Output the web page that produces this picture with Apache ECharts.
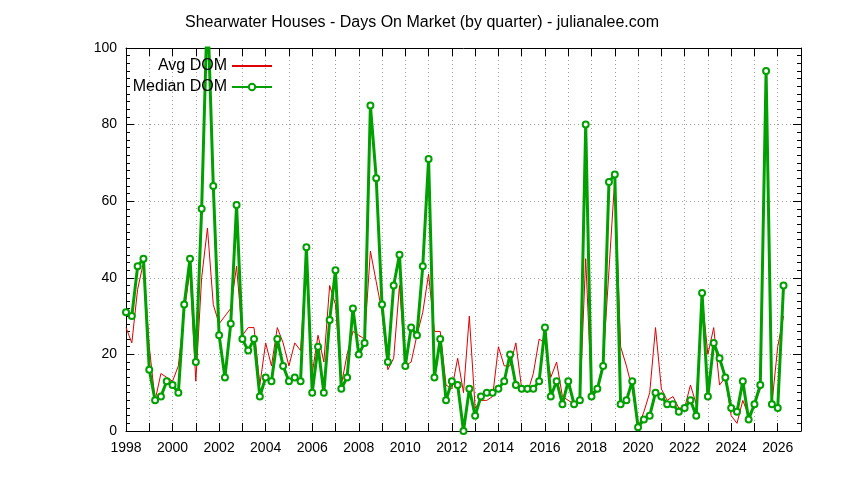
<!DOCTYPE html>
<html>
<head>
<meta charset="utf-8">
<title>Shearwater Houses - Days On Market</title>
<script src="https://cdn.jsdelivr.net/npm/echarts@6/dist/echarts.min.js"></script>
<style>
  html, body { margin: 0; padding: 0; background: #fff; }
  #chart { width: 844px; height: 480px; }
</style>
</head>
<body>
<div id="chart"></div>
<script>
// quarterly data, first value is 1998 Q1
const startYear = 1998;

const avgDom = [
  27, 23, 37, 44, 22, 8, 15, 14, 13, 17,
  31, 42, 13, 40, 53, 33, 28, 30, 32, 43,
  25, 27, 27, 12, 23, 17, 27, 23, 17, 23,
  21, 45, 15, 25, 18, 38, 33, 12, 20, 26,
  25, 24, 47, 39, 31, 16, 19, 38, 17, 18,
  25, 31, 41, 26, 26, 12, 11, 19, 10, 30,
  6, 8, 8, 9, 22, 17, 17, 23, 11, 10,
  15, 24, 23, 14, 18, 9, 8, 7, 8, 45,
  10, 11, 18, 42, 66, 22, 17, 11, 1, 5,
  10, 27, 11, 8, 9, 6, 6, 12, 7, 35,
  20, 27, 12, 14, 4, 2, 8, 4, 7, 11,
  90, 7, 22, 30
];

const medianDom = [
  31, 30, 43, 45, 16, 8, 9, 13, 12, 10,
  33, 45, 18, 58, 112, 64, 25, 14, 28, 59,
  24, 21, 24, 9, 14, 13, 24, 17, 13, 14,
  13, 48, 10, 22, 10, 29, 42, 11, 14, 32,
  20, 23, 85, 66, 33, 18, 38, 46, 17, 27,
  25, 43, 71, 14, 24, 8, 13, 12, 0, 11,
  4, 9, 10, 10, 11, 13, 20, 12, 11, 11,
  11, 13, 27, 9, 13, 7, 13, 7, 8, 80,
  9, 11, 17, 65, 67, 7, 8, 13, 1, 3,
  4, 10, 9, 7, 7, 5, 6, 8, 4, 36,
  9, 23, 19, 14, 6, 5, 13, 3, 7, 12,
  94, 7, 6, 38
];

const yearLabels = [1998, 2000, 2002, 2004, 2006, 2008, 2010, 2012,
  2014, 2016, 2018, 2020, 2022, 2024, 2026];
const dayLabels = [0, 20, 40, 60, 80, 100];

const font = 'Liberation Sans, Arial, sans-serif';

function toPoints(values) {
  return values.map((v, i) => [startYear + i / 4, v]);
}

const gridLine = { show: true, lineStyle: { color: '#a0a0a0', type: [1, 3], width: 1 } };
const frame = { show: true, onZero: false, lineStyle: { color: '#000', width: 1 } };
const ticks = { show: true, inside: true, length: 8, lineStyle: { color: '#000' } };
const minorTicks = { show: true, splitNumber: 10, length: 4, lineStyle: { color: '#000' } };

let chart = echarts.init(document.getElementById('chart'));

let option = {
  animation: false,
  backgroundColor: '#fff',
  textStyle: { fontFamily: font },
  title: {
    text: 'Shearwater Houses - Days On Market (by quarter) - julianalee.com',
    left: 'center',
    top: 10,
    textStyle: { fontSize: 16, fontWeight: 'normal', color: '#000', fontFamily: font }
  },
  legend: [
    {
      // line only, no marker
      data: ['Avg DOM'], right: 571, top: 58, align: 'right', padding: 0,
      itemWidth: 40, itemHeight: 14,
      itemStyle: { opacity: 0 },
      textStyle: { fontSize: 16, color: '#000', fontFamily: font }
    },
    {
      data: ['Median DOM'], right: 571, top: 79, align: 'right', padding: 0,
      itemWidth: 40, itemHeight: 8,
      textStyle: { fontSize: 16, color: '#000', fontFamily: font }
    }
  ],
  grid: { left: 126, right: 43, top: 48, bottom: 49 },
  xAxis: [
    {
      type: 'value', min: yearLabels[0], max: 2027, interval: 1, position: 'bottom',
      axisLine: frame, axisTick: ticks, splitLine: gridLine,
      axisLabel: {
        fontSize: 14, color: '#000', margin: 10, fontFamily: font,
        formatter: v => yearLabels.includes(v) ? String(v) : ''
      }
    },
    {
      type: 'value', min: yearLabels[0], max: 2027, interval: 1, position: 'top',
      axisLine: frame, axisTick: ticks, splitLine: { show: false },
      axisLabel: { show: false }
    }
  ],
  yAxis: [
    {
      type: 'value', min: dayLabels[0], max: dayLabels[dayLabels.length - 1], interval: 20,
      position: 'left', axisLine: frame, axisTick: ticks, minorTick: minorTicks,
      splitLine: gridLine,
      axisLabel: { fontSize: 14, color: '#000', margin: 9, fontFamily: font }
    },
    {
      type: 'value', min: dayLabels[0], max: dayLabels[dayLabels.length - 1], interval: 20,
      position: 'right', axisLine: frame, axisTick: ticks, minorTick: minorTicks,
      splitLine: { show: false }, axisLabel: { show: false }
    }
  ],
  series: [
    {
      name: 'Avg DOM',
      type: 'line',
      data: toPoints(avgDom),
      symbol: 'none',
      lineStyle: { color: '#e00000', width: 1 },
      itemStyle: { color: '#e00000' },
      z: 2
    },
    {
      name: 'Median DOM',
      type: 'line',
      data: toPoints(medianDom),
      symbol: 'emptyCircle',
      symbolSize: 6,
      lineStyle: { color: '#00a000', width: 3 },
      itemStyle: { color: '#00a000', borderWidth: 2 },
      z: 3
    }
  ]
};

chart.setOption(option);
</script>
</body>
</html>
